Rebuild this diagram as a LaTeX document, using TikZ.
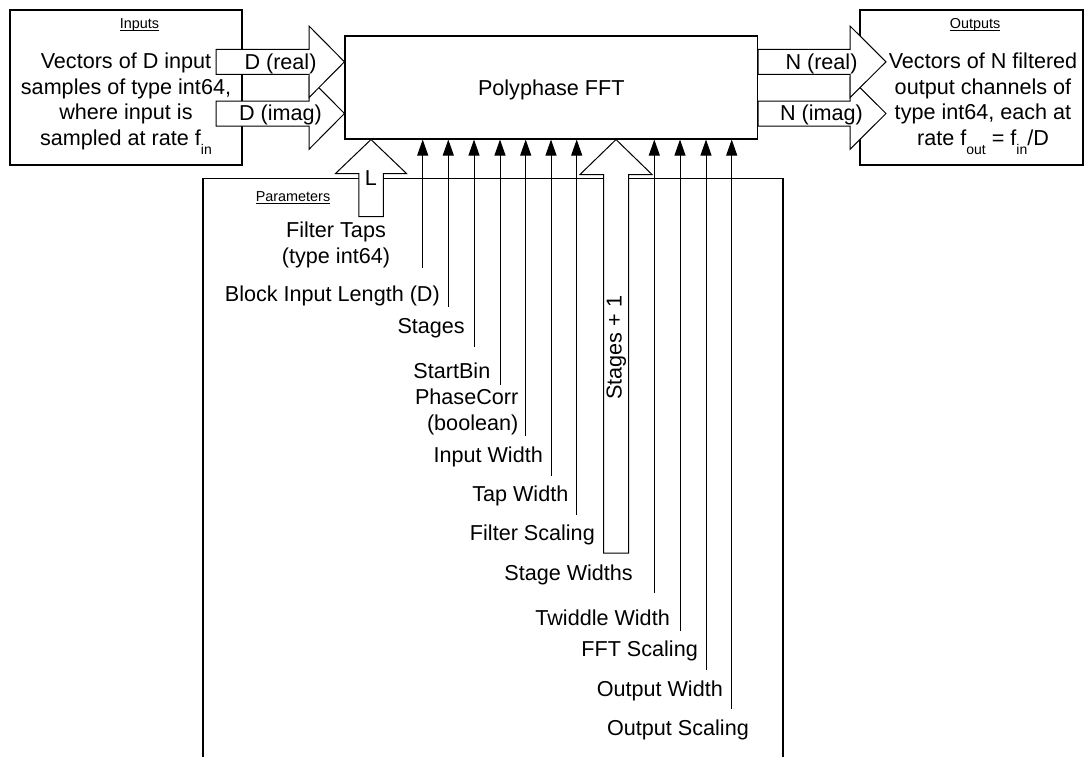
\documentclass[tikz,border=0pt]{standalone}
\usepackage{fontspec}
\setmainfont{Liberation Sans}
\usetikzlibrary{arrows.meta}
\newcommand\subtx[1]{\raisebox{-8.5pt}{\fontsize{14}{14}\selectfont #1}}
\newcommand\ulab[1]{\setbox0\hbox{#1}\rlap{\vrule height -1.2pt depth 2.2pt width \wd0}\box0}
\begin{document}
\begin{tikzpicture}[x=1pt,y=-1pt,
  every node/.style={inner sep=0pt, font=\fontsize{21.6}{25.8}\selectfont},
  box/.style={draw, line width=1.1pt, fill=white},
  blk/.style={draw, line width=1pt, fill=white, line join=miter},
  lbl/.style={anchor=base east},
  title/.style={font=\fontsize{14.4}{16}\selectfont, anchor=base},
  parrow/.style={line width=1pt, -{Triangle[length=16pt,width=11pt]}},
  frame/.style={line width=1.1pt}
]
\useasboundingbox (0,0) rectangle (1084,756);

% Parameters frame (open at the bottom edge of the picture)
\coordinate (params) at (203,178.3);
\draw[frame] (203,757) -- (params) -- (783,178.3) -- (783,757);
\node[title] (partitle) at (293,201.5) {\ulab{Parameters}};

% Inputs and outputs boxes (multi-line nodes: base = last line)
\node[box, minimum width=232pt, minimum height=155pt] (inbox) at (126,87.5) {};
\node[title] (intitle) at (139.5,28.3) {\ulab{Inputs}};
\node[anchor=base, align=center] (intext) at (126,145.7)
  {Vectors of D input\\samples of type int64,\\where input is\\sampled at rate f\subtx{in}};

\node[box, minimum width=223pt, minimum height=155pt] (outbox) at (971.5,87.5) {};
\node[title] (outtitle) at (975,28.3) {\ulab{Outputs}};
\node[anchor=base, align=center] (outtext) at (983,145.7)
  {Vectors of N filtered\\output channels of\\type int64, each at\\rate f\subtx{out} = f\subtx{in}/D};

% Main block
\node[box, minimum width=412.5pt, minimum height=103pt, text height=15.5pt, text depth=0pt]
  (fft) at (551.25,87.5) {Polyphase FFT};

% Input block arrows (lower one first, upper one drawn over it)
\draw[blk] (216,101) -- (309,101) -- (309,77.7) -- (fft.west |- 0,113.5) -- (309,149.3) -- (309,126) -- (216,126) -- cycle;
\draw[blk] (216,49.3) -- (309,49.3) -- (309,26) -- (fft.west |- 0,61.8) -- (309,97.6) -- (309,74.3) -- (216,74.3) -- cycle;
\node[anchor=base] (dreal) at (280.5,69.3) {D (real)};
\node[anchor=base] (dimag) at (280.5,120.5) {D (imag)};

% Output block arrows
\draw[blk] (fft.east |- 0,101) -- (850,101) -- (850,77.7) -- (886,113.5) -- (850,149.3) -- (850,126) -- (fft.east |- 0,126) -- cycle;
\draw[blk] (fft.east |- 0,49.3) -- (850,49.3) -- (850,26) -- (886,61.8) -- (850,97.6) -- (850,74.3) -- (fft.east |- 0,74.3) -- cycle;
\node[anchor=base] (nreal) at (821.5,69.3) {N (real)};
\node[anchor=base] (nimag) at (821.5,120.5) {N (imag)};

% Filter taps block arrow (L)
\draw[blk] (358.8,216.7) -- (358.8,173.5) -- (335.5,173.5) -- (fft.south -| 371,0) -- (406.5,173.5) -- (383.3,173.5) -- (383.3,216.7) -- cycle;
\node[anchor=base] (lsym) at (371,185) {L};
\node[anchor=base, align=center] (taps) at (336,263.3) {Filter Taps\\(type int64)};

% Stage widths block arrow (Stages + 1)
\draw[blk] (603.5,553) -- (603.5,174.5) -- (580,174.5) -- (fft.south -| 616,0) -- (652,174.5) -- (628.5,174.5) -- (628.5,553) -- cycle;
\node[anchor=base, rotate=90] (stplus) at (621.7,347.5) {Stages + 1};
\node[lbl] (stw) at (633,580) {Stage Widths};

% Scalar parameter arrows
\coordinate (e1) at (422.7,268);
\coordinate (e2) at (448.3,307);
\coordinate (e3) at (474,347);
\coordinate (e4) at (500,385);
\coordinate (e5) at (525.7,436);
\coordinate (e6) at (551,476);
\coordinate (e7) at (576.7,515);
\coordinate (e8) at (654.3,593);
\coordinate (e9) at (680,631);
\coordinate (e10) at (706,670);
\coordinate (e11) at (731.7,709);
\foreach \e in {e1,e2,e3,e4,e5,e6,e7,e8,e9,e10,e11}
  \draw[parrow] (\e) -- (\e |- fft.south);

\node[lbl] (l1) at (440,301.7) {Block Input Length (D)};
\node[lbl] (l2) at (465,333.3) {Stages};
\node[lbl] (l3) at (490.5,378.3) {StartBin};
\node[anchor=base east, align=right] (l4) at (518.5,430.1) {PhaseCorr\\(boolean)};
\node[lbl] (l5) at (543,462.7) {Input Width};
\node[lbl] (l6) at (568.5,501.7) {Tap Width};
\node[lbl] (l7) at (595,540) {Filter Scaling};
\node[lbl] (l8) at (670,625) {Twiddle Width};
\node[lbl] (l9) at (698,656.7) {FFT Scaling};
\node[lbl] (l10) at (723,696) {Output Width};
\node[lbl] (l11) at (749,735) {Output Scaling};
\end{tikzpicture}
\end{document}
